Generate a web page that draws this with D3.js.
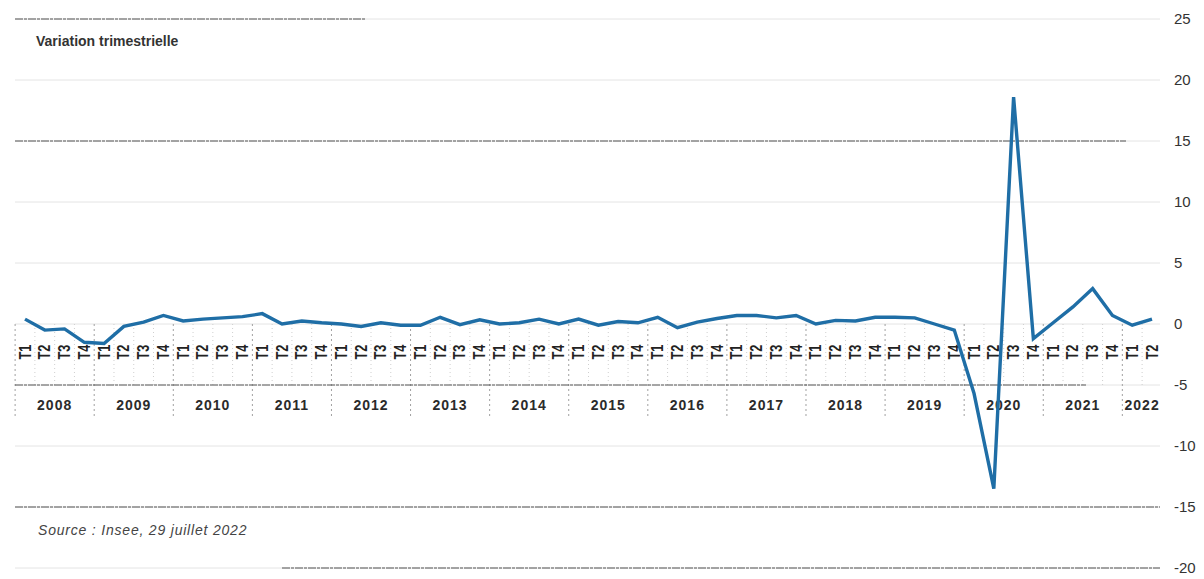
<!DOCTYPE html>
<html>
<head>
<meta charset="utf-8">
<script src="https://cdn.jsdelivr.net/npm/d3@7"></script>
<style>
  html, body { margin: 0; padding: 0; background: #fff; }
  svg { display: block; font-family: "Liberation Sans", Arial, sans-serif; }
</style>
</head>
<body>
<svg id="chart" width="1204" height="579"></svg>
<script>
// ---- data ----
const years = [2008, 2009, 2010, 2011, 2012, 2013, 2014, 2015, 2016, 2017, 2018, 2019, 2020, 2021, 2022];
const quarterLabels = ["T1", "T2", "T3", "T4"];
const quartersPerYear = [4, 4, 4, 4, 4, 4, 4, 4, 4, 4, 4, 4, 4, 4, 2];
const values = [
  0.4, -0.5, -0.4, -1.5,     // 2008
  -1.6, -0.2, 0.15, 0.7,     // 2009
  0.25, 0.4, 0.5, 0.6,       // 2010
  0.85, 0.0, 0.25, 0.1,      // 2011
  0.0, -0.2, 0.1, -0.1,      // 2012
  -0.1, 0.55, -0.05, 0.35,   // 2013
  0.0, 0.1, 0.4, 0.0,        // 2014
  0.4, -0.1, 0.2, 0.1,       // 2015
  0.55, -0.3, 0.15, 0.45,    // 2016
  0.7, 0.7, 0.5, 0.7,        // 2017
  0.0, 0.3, 0.25, 0.55,      // 2018
  0.55, 0.5, 0.0, -0.5,      // 2019
  -5.7, -13.5, 18.6, -1.2,   // 2020
  0.1, 1.4, 2.9, 0.7,        // 2021
  -0.1, 0.4                  // 2022
];
const yTicks = [25, 20, 15, 10, 5, 0, -5, -10, -15, -20];
const titleText = "Variation trimestrielle";
const sourceText = "Source : Insee, 29 juillet 2022";

// ---- build periods ----
const periods = [];
years.forEach((y, yi) => {
  for (let q = 0; q < quartersPerYear[yi]; q++) {
    periods.push({ year: y, q: quarterLabels[q], i: periods.length });
  }
});
periods.forEach((p, i) => p.value = values[i]);

const svg = d3.select("#chart");

const x = d3.scalePoint().domain(periods.map(p => p.i)).range([25, 1152]);
const step = x.step();
const y = d3.scaleLinear().domain([-20, 25]).range([568, 19]);

const gridLeft = 15, gridRight = 1160;

// ---- grid ----
const grid = svg.append("g");
grid.selectAll("line.g").data(yTicks).join("line")
  .attr("x1", gridLeft).attr("x2", gridRight)
  .attr("y1", d => y(d)).attr("y2", d => y(d))
  .attr("stroke", "#e4e4e4").attr("stroke-width", 1);

// darker scanned-looking segments on some gridlines
const darkSegs = [
  { v: 25, a: gridLeft, b: 365 },
  { v: 15, a: gridLeft, b: 1126 },
  { v: -15, a: gridLeft, b: 1160 },
  { v: -20, a: 282, b: 1160 }
];
grid.selectAll("line.d").data(darkSegs).join("line")
  .attr("x1", d => d.a).attr("x2", d => d.b)
  .attr("y1", d => y(d.v)).attr("y2", d => y(d.v))
  .attr("stroke", "#555").attr("stroke-width", 1)
  .attr("stroke-dasharray", "8,1,3,1");

// ---- category axis area ----
const axisTop = y(0);
const axisMid = y(-5);
const axisBottom = 418;

// quarter separators
const qSeps = periods.slice(1).filter(p => p.q !== "T1");
svg.append("g").selectAll("line").data(qSeps).join("line")
  .attr("x1", p => x(p.i) - step / 2).attr("x2", p => x(p.i) - step / 2)
  .attr("y1", axisTop).attr("y2", axisMid)
  .attr("stroke", "#cfcfcf").attr("stroke-width", 1)
  .attr("stroke-dasharray", "1,3");

// year separators
const ySeps = periods.filter(p => p.q === "T1");
svg.append("g").selectAll("line").data(ySeps).join("line")
  .attr("x1", p => x(p.i) - step / 2).attr("x2", p => x(p.i) - step / 2)
  .attr("y1", axisTop).attr("y2", axisBottom)
  .attr("stroke", "#a0a0a0").attr("stroke-width", 1)
  .attr("stroke-dasharray", "2,3");

// axis separator line between quarters and years
svg.append("line")
  .attr("x1", gridLeft).attr("x2", 1086)
  .attr("y1", axisMid).attr("y2", axisMid)
  .attr("stroke", "#5a5a5a").attr("stroke-width", 1)
  .attr("stroke-dasharray", "8,1,3,1");

// quarter labels (rotated)
svg.append("g").selectAll("text").data(periods).join("text")
  .attr("transform", p => `translate(${x(p.i) + 5.5},352) rotate(-90) scale(0.85,1.12)`)
  .attr("text-anchor", "middle")
  .attr("font-size", 15).attr("font-weight", "bold")
  .attr("fill", "#222")
  .text(p => p.q);

// year labels
const yearGroups = years.map((yr, yi) => {
  const ps = periods.filter(p => p.year === yr);
  return { year: yr, cx: (x(ps[0].i) + x(ps[ps.length - 1].i)) / 2 };
});
svg.append("g").selectAll("text").data(yearGroups).join("text")
  .attr("x", d => d.cx).attr("y", 410)
  .attr("text-anchor", "middle")
  .attr("font-size", 14).attr("font-weight", "bold")
  .attr("letter-spacing", "1px")
  .attr("fill", "#2b2b2b")
  .text(d => d.year);

// ---- y axis labels (right) ----
svg.append("g").selectAll("text").data(yTicks).join("text")
  .attr("x", 1174).attr("y", d => y(d)).attr("dy", "0.35em")
  .attr("font-size", 15).attr("fill", "#333")
  .text(d => d);

// ---- line ----
const line = d3.line().x(p => x(p.i)).y(p => y(p.value));
svg.append("path").datum(periods)
  .attr("d", line)
  .attr("fill", "none")
  .attr("stroke", "#1f6ea6")
  .attr("stroke-width", 3.4)
  .attr("stroke-linejoin", "miter");

// ---- title & source ----
svg.append("text").attr("x", 36).attr("y", 46)
  .attr("font-size", 14).attr("font-weight", "bold").attr("fill", "#333")
  .text(titleText);

svg.append("text").attr("x", 38).attr("y", 535)
  .attr("font-size", 14).attr("font-style", "italic").attr("fill", "#444")
  .attr("letter-spacing", "0.8px")
  .text(sourceText);
</script>
</body>
</html>
